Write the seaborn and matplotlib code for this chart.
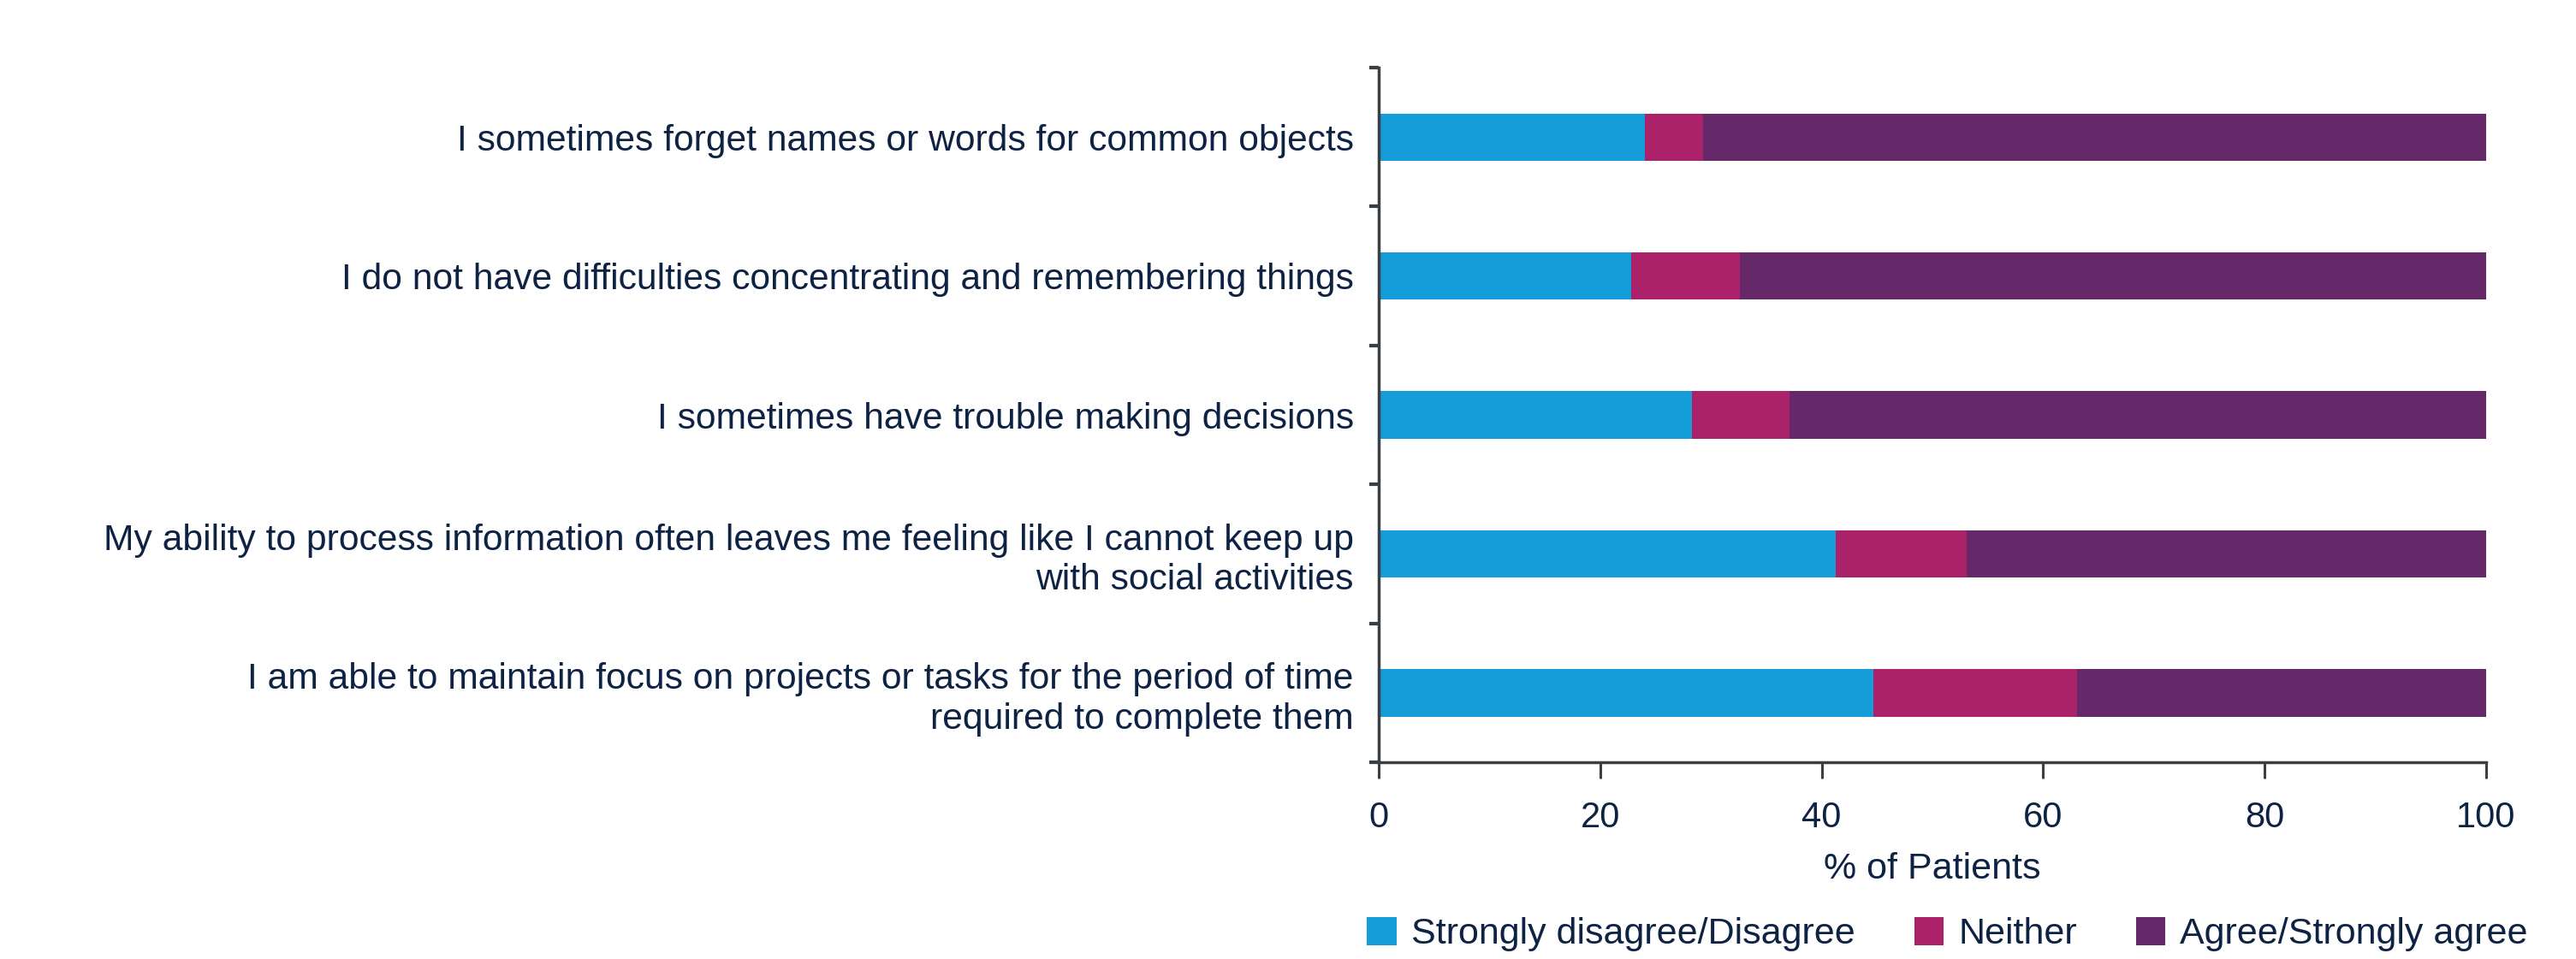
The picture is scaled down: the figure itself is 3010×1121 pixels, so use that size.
import numpy as np
import pandas as pd
import matplotlib
matplotlib.use("Agg")
import matplotlib.pyplot as plt
from matplotlib.patches import Patch
import seaborn as sns

categories = [
    "I sometimes forget names or words for common objects",
    "I do not have difficulties concentrating and remembering things",
    "I sometimes have trouble making decisions",
    "My ability to process information often leaves me feeling like I cannot keep up\nwith social activities",
    "I am able to maintain focus on projects or tasks for the period of time\nrequired to complete them",
]
disagree = [24.0, 22.8, 28.3, 41.3, 44.7]
neither = [5.3, 9.8, 8.8, 11.8, 18.4]
agree = [70.7, 67.4, 62.9, 46.9, 36.9]
series_names = ["Strongly disagree/Disagree", "Neither", "Agree/Strongly agree"]
colors = ["#149DD8", "#AB226A", "#652869"]
x_ticks = [0, 20, 40, 60, 80, 100]
x_label = "% of Patients"

TEXT = "#0E2344"
SPINE = "#3B3F43"

sns.set_theme(style="white")
plt.rcParams['font.family'] = ['Liberation Sans', 'DejaVu Sans']

df = pd.DataFrame({"cat": categories, "d": disagree, "n": neither, "a": agree})
df["c1"] = df["d"]
df["c2"] = df["d"] + df["n"]
df["c3"] = df["d"] + df["n"] + df["a"]

fig = plt.figure(figsize=(30.10, 11.21), dpi=100)
ax = fig.add_axes([0.5352, 0.205, 0.4299, 0.7245])

for col, color in zip(["c3", "c2", "c1"], colors[::-1]):
    sns.barplot(data=df, x=col, y="cat", order=categories, color=color,
                width=0.34, orient="h", ax=ax, saturation=1, linewidth=0)

ax.set_xlim(0, 100)
ax.set_ylim(4.5, -0.5)
ax.set_xticks(x_ticks)
ax.set_xticklabels([str(t) for t in x_ticks])
ax.set_yticks(range(len(categories)))
ax.set_yticklabels(categories)
ax.set_yticks(np.arange(-0.5, len(categories), 1.0), minor=True)
ax.tick_params(axis="y", which="major", length=0, pad=21, labelsize=30.7, labelcolor=TEXT)
ax.tick_params(axis="y", which="minor", length=8, width=3, color=SPINE, left=True)
ax.tick_params(axis="x", which="major", length=13.5, width=2.2, color=SPINE, pad=19,
               labelsize=30, labelcolor=TEXT, bottom=True)
ax.set_xlabel(x_label, fontsize=31, color=TEXT, labelpad=14)
ax.set_ylabel("")

for s in ["top", "right"]:
    ax.spines[s].set_visible(False)
for s in ["left", "bottom"]:
    ax.spines[s].set_color(SPINE)
    ax.spines[s].set_linewidth(2.5)

handles = [Patch(facecolor=c, edgecolor="none") for c in colors]
fig.legend(handles, series_names, loc="center", bbox_to_anchor=(0.756, 0.026), ncol=3,
           frameon=False, fontsize=31, handlelength=0.8, handleheight=0.8,
           handletextpad=0.4, columnspacing=1.6, labelcolor=TEXT)

fig.savefig("out.png", dpi=100)
